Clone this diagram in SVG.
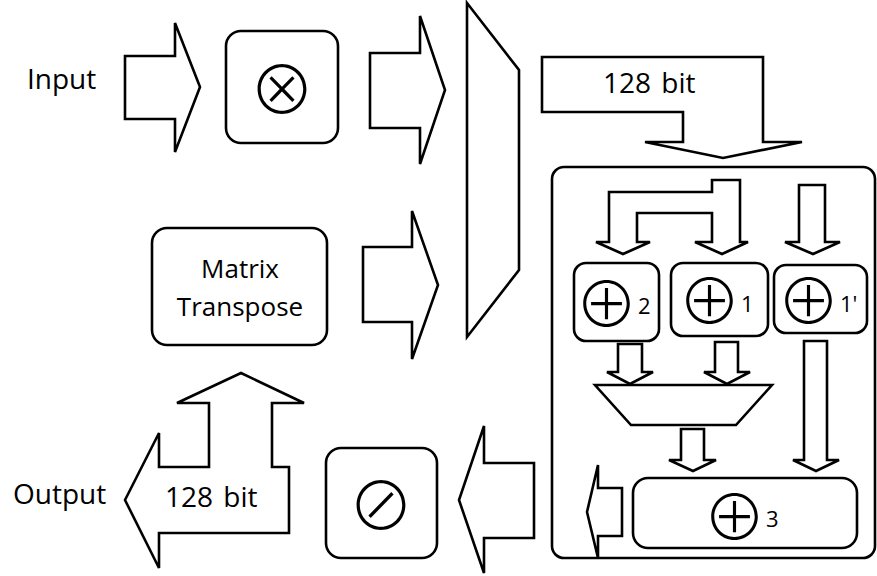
<svg xmlns="http://www.w3.org/2000/svg" width="877" height="576" viewBox="0 0 877 576">
<style>
.s{fill:#fff;stroke:#000;stroke-width:2.6;stroke-linejoin:miter}
.b{fill:#fff;stroke:#000;stroke-width:2.6}
.t{font-family:"Open Sans","Liberation Sans",sans-serif;fill:#000}
.m{font-family:"Noto Sans CJK JP","DejaVu Sans",sans-serif;font-weight:300;fill:#000}
.sub{font-family:"Open Sans","Liberation Sans",sans-serif;font-weight:400;font-size:22px}
</style>
<rect width="877" height="576" fill="#fff"/>
<g id="labels">
<text class="t" x="27" y="89" font-size="28">Input</text>
<text class="t" x="13" y="504" font-size="28">Output</text>
</g>
<g id="connectors">
<polygon class="s" points="125,56 175,56 175,23 200,87 175,152 175,119 125,119"/>
<polygon class="s" points="370,53 420,53 420,16 445,90 420,164 420,128 370,128"/>
<polygon class="s" points="363,247 412,247 412,211 438,285 412,359 412,322 363,322"/>
<polygon class="s" points="542,57 763,57 763,142 802,142 723,158 645,142 683,142 683,112 542,112"/>
<polygon class="s" points="534,463 484,463 484,426 459,500 484,573 484,538 534,538"/>
<polygon class="s" points="125,500 159,433 159,467 209,467 209,403 177,403 241,373 304,403 272,403 272,467 289,467 289,533 159,533 159,568"/>
</g>
<g id="mult"><rect class="b" x="226" y="31" width="112" height="112" rx="15"/><text class="m" x="282" y="114" font-size="66" text-anchor="middle">⊗</text></g>
<g id="div"><rect class="b" x="326" y="448" width="111" height="110" rx="15"/><text class="m" x="381" y="530" font-size="66" text-anchor="middle">⊘</text></g>
<g id="transpose"><rect class="b" x="152" y="228" width="175" height="117" rx="15"/>
<text class="t" x="240" y="278" font-size="26" text-anchor="middle">Matrix</text>
<text class="t" x="240" y="316" font-size="26" text-anchor="middle">Transpose</text></g>
<g id="mux"><polygon class="s" points="467,3 519,70 519,270 467,337"/></g>
<text class="t" x="603" y="93" font-size="28" word-spacing="3">128 bit</text>
<text class="t" x="165" y="507" font-size="28" word-spacing="3">128 bit</text>
<g id="unit">
<rect class="b" x="552" y="167" width="323" height="391" rx="12"/>
<g id="inner-connectors">
<polygon class="s" points="712,180 740,180 740,242 748,242 722,254 695,242 712,242 712,213 637,213 637,242 650,242 623,254 596,242 609,242 609,192 712,192"/>
<polygon class="s" points="799,185 825,185 825,242 840,242 813,254 785,242 799,242"/>
<polygon class="s" points="618,344 642,344 642,372 653,372 630,384 607,372 618,372"/>
<polygon class="s" points="715,342 738,342 738,372 750,372 727,384 704,372 715,372"/>
<polygon class="s" points="681,429 704,429 704,460 716,460 693,471 669,460 681,460"/>
<polygon class="s" points="804,341 827,341 827,460 839,460 816,471 793,460 804,460"/>
<polygon class="s" points="622,488 622,536 598,536 598,558 587,512 598,465 598,488"/>
</g>
<g id="add2"><rect class="b" x="574" y="263" width="85" height="78" rx="12"/><text class="m" x="575" y="327" font-size="63">⊕<tspan class="sub" dy="-13">2</tspan></text></g>
<g id="add1"><rect class="b" x="671" y="263" width="97" height="73" rx="12"/><text class="m" x="678" y="324" font-size="63">⊕<tspan class="sub" dy="-12">1</tspan></text></g>
<g id="add1p"><rect class="b" x="774" y="265" width="93" height="68" rx="12"/><text class="m" x="777" y="324" font-size="63">⊕<tspan class="sub" dy="-12">1'</tspan></text></g>
<g id="sel"><polygon class="s" points="595,385 772,385 736,425 631,425"/></g>
<g id="add3"><rect class="b" x="633" y="478" width="224" height="70" rx="15"/><text class="m" x="703" y="540" font-size="63">⊕<tspan class="sub" dy="-13">3</tspan></text></g>
</g>
</svg>
